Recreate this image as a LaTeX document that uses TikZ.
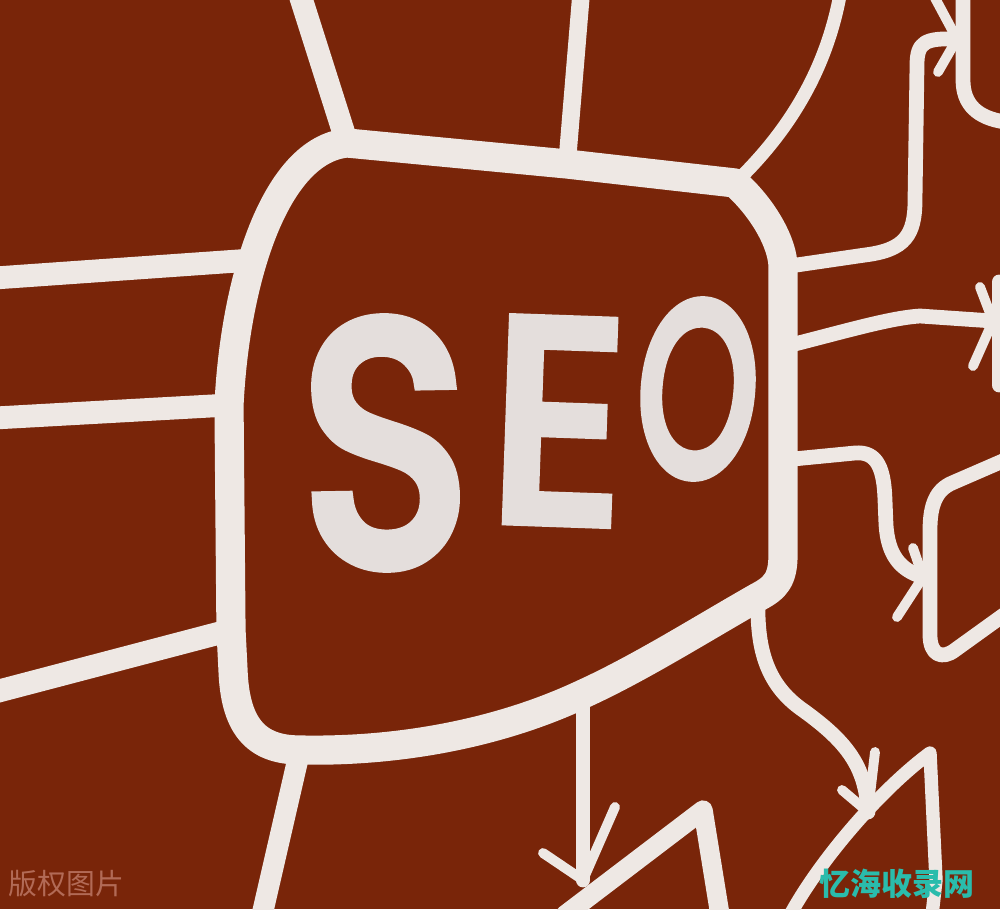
\documentclass[tikz,border=0pt]{standalone}
\usepackage{fontspec}
\usepackage{graphicx}
\usepackage{tikz}
\newfontfamily\seofont{Poppins}[FakeBold=5]
\newfontfamily\cjk{Noto Sans CJK SC}
\definecolor{board}{RGB}{121,37,9}
\definecolor{chalk}{RGB}{238,232,228}
\definecolor{chalkgrey}{RGB}{228,222,220}
\definecolor{markred}{RGB}{178,106,86}
\definecolor{siteteal}{RGB}{42,188,172}

\begin{document}
\begin{tikzpicture}[
  x=0.01cm, y=-0.01cm,
  line/.style={draw=chalk, line cap=round, line join=round},
  frame/.style={line, line width=8.3pt},
  trunk/.style={line, line width=6.5pt},
  twig/.style={line, line width=4.2pt},
  barb/.style={line, line width=2.8pt},
  letter/.style={text=chalkgrey, inner sep=0pt, font=\seofont}
]
\useasboundingbox (0,0) rectangle (1000,909);
\fill[board] (0,0) rectangle (1000,909);

% Junctions on the frame
\coordinate (jTopL) at (347,143);
\coordinate (jTopM) at (567,164);
\coordinate (jTopR) at (735,183);
\coordinate (jR1) at (783,267);
\coordinate (jR2) at (783,347);
\coordinate (jR3) at (783,460);
\coordinate (jBR) at (758,597);
\coordinate (jB) at (583,694);
\coordinate (jBL) at (300,750);
\coordinate (jL1) at (252,260);
\coordinate (jL2) at (229,405);
\coordinate (jL3) at (231,630);

% Arrow tips
\coordinate (tipA) at (957,39);
\coordinate (tipB) at (993,321);
\coordinate (tipC) at (923,577);
\coordinate (tipD) at (868,812);
\coordinate (tipE) at (583,880);

% Lines leaving the frame to the left and top
\draw[trunk] (-5,278) -- (jL1);
\draw[trunk] (-5,418) -- (jL2);
\draw[trunk] (-5,692) -- (jL3);
\draw[trunk] (300,-5) -- (jTopL);
\draw[line, line width=5pt] (581,-5) -- (jTopM);
\draw[line, line width=3.8pt] (jTopR) .. controls (785,135) and (825,75) .. (840,-5);
\draw[trunk, line width=6pt] (jBL) -- (262,915);

% Right branches with their arrows
\draw[twig] (jR1) -- (865,255) .. controls (905,250) and (915,235) .. (915,200)
  -- (917,65) .. controls (917,42) and (925,38) .. (tipA);
\draw[barb] (tipA) -- (935,-2);
\draw[barb] (tipA) -- (938,72);
\draw[twig] (963,-5) -- (963,80) .. controls (963,105) and (978,118) .. (1005,122);

\draw[twig] (jR2) .. controls (850,330) and (890,318) .. (920,316) -- (tipB);
\draw[barb] (tipB) -- (980,287);
\draw[barb] (tipB) -- (973,366);
\draw[twig] (999,282) -- (999,385);

\draw[twig] (jR3) -- (855,453) .. controls (878,451) and (884,470) .. (885,500)
  -- (886,525) .. controls (888,555) and (900,570) .. (tipC);
\draw[barb] (tipC) -- (913,548);
\draw[barb] (tipC) -- (897,617);
\draw[twig] (1005,460) -- (952,483) .. controls (936,490) and (930,505) .. (930,530)
  -- (930,635) .. controls (930,655) and (942,660) .. (955,650) -- (1005,614);

% Lower branches with their arrows
\draw[twig] (jBR) .. controls (757,640) and (762,680) .. (800,708)
  .. controls (845,740) and (866,765) .. (tipD);
\draw[barb] (tipD) -- (875,752);
\draw[barb] (tipD) -- (842,790);
\draw[twig, line width=3.8pt] (790,915) .. controls (820,860) and (880,790) .. (930,753)
  -- (936,880) -- (932,915);

\draw[twig] (jB) -- (tipE);
\draw[barb] (tipE) -- (615,807);
\draw[barb] (tipE) -- (543,853);
\draw[twig, line width=5.5pt] (565,915) -- (703,810) -- (720,915);

% The frame
\draw[frame] (jTopL) -- (jTopM) -- (jTopR)
  .. controls (765,210) and (783,245) .. (jR1) -- (jR2) -- (jR3) -- (783,555)
  .. controls (783,580) and (775,588) .. (jBR)
  .. controls (700,630) and (640,668) .. (jB)
  .. controls (500,733) and (400,752) .. (jBL)
  .. controls (255,750) and (235,725) .. (233,670)
  -- (jL3) -- (jL2)
  .. controls (235,280) and (275,150) .. (jTopL) -- cycle;

% Letters
\node[letter, rotate=1] (seoS) at (385,443) {\resizebox{1.66cm}{2.4cm}{S}};
\node[letter, rotate=-2] (seoE) at (558,421) {\resizebox{1.32cm}{1.98cm}{E}};
\node[letter, rotate=-5] (seoO) at (698,389) {\resizebox{1.2cm}{1.72cm}{O}};

% Watermarks
\node[anchor=west, inner sep=0pt, text=markred, font=\cjk\fontsize{8.2pt}{10pt}\selectfont] (mark) at (8,884) {版权图片};
\node[inner sep=0pt, text=siteteal, font=\cjk\bfseries\fontsize{8.8pt}{10pt}\selectfont] (site) at (897,884) {忆海收录网};
\end{tikzpicture}
\end{document}
